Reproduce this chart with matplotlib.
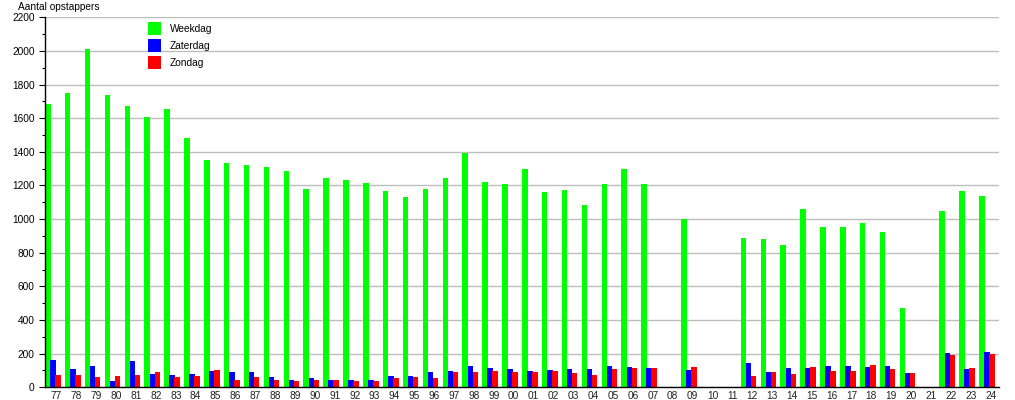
import numpy as np
import matplotlib
matplotlib.use("Agg")
import matplotlib.pyplot as plt
from matplotlib.patches import Patch
from matplotlib.ticker import MultipleLocator

plt.rcParams['font.family'] = ['Liberation Sans', 'DejaVu Sans']

years = ["77", "78", "79", "80", "81", "82", "83", "84", "85", "86", "87", "88",
         "89", "90", "91", "92", "93", "94", "95", "96", "97", "98", "99", "00",
         "01", "02", "03", "04", "05", "06", "07", "08", "09", "10", "11", "12",
         "13", "14", "15", "16", "17", "18", "19", "20", "21", "22", "23", "24"]

weekdag = [1685, 1752, 2012, 1738, 1673, 1607, 1655, 1483, 1352, 1334, 1322, 1310,
           1286, 1179, 1245, 1233, 1215, 1167, 1132, 1179, 1245, 1393, 1221, 1209,
           1298, 1162, 1173, 1084, 1209, 1298, 1209, 0, 1001, 0, 0, 888,
           882, 846, 1060, 953, 953, 977, 924, 472, 0, 1049, 1167, 1138]

zaterdag = [163, 109, 127, 38, 157, 79, 73, 79, 97, 91, 91, 61,
            44, 55, 44, 44, 44, 67, 67, 91, 97, 127, 115, 109,
            97, 103, 109, 109, 127, 121, 115, 0, 103, 0, 0, 145,
            91, 115, 115, 127, 127, 121, 127, 85, 0, 204, 109, 210]

zondag = [73, 73, 61, 67, 73, 91, 61, 67, 103, 44, 61, 44,
          38, 44, 44, 38, 38, 55, 61, 55, 91, 91, 97, 91,
          91, 97, 85, 73, 109, 115, 115, 0, 121, 0, 0, 67,
          91, 79, 121, 97, 97, 133, 109, 85, 0, 192, 115, 198]

series_names = ["Weekdag", "Zaterdag", "Zondag"]
colors = ["#00ff00", "#0000ff", "#ff0000"]

W, H = 1015, 400
fig = plt.figure(figsize=(W / 100, H / 100), dpi=100)
left, right = 45, 999
bottom, top = 387.3, 17.3
ax = fig.add_axes([left / W, 1 - bottom / H, (right - left) / W, (bottom - top) / H])

x = np.arange(len(years))
bw = 0.28
offsets = [-0.36, -0.10, 0.15]
for vals, off, c in zip([weekdag, zaterdag, zondag], offsets, colors):
    ax.bar(x + off, vals, width=bw, color=c, linewidth=0, zorder=2)

ax.set_xlim(-0.5, len(years) - 0.5)
ax.set_ylim(0, 2200)
ax.yaxis.set_major_locator(MultipleLocator(200))
ax.yaxis.set_minor_locator(MultipleLocator(100))
ax.grid(axis='y', which='major', color='#bdbdbd', linewidth=1.0, zorder=0)
ax.set_axisbelow(True)

ax.set_xticks(x + 0.08)
ax.set_xticklabels(years)
ax.tick_params(axis='x', length=0, pad=2.6, labelsize=7.3, colors='#222222')
ax.tick_params(axis='y', which='major', length=4, width=0.8, pad=3.5, labelsize=7.3)
ax.tick_params(axis='y', which='minor', length=2, width=0.8)

for s in ['top', 'right']:
    ax.spines[s].set_visible(False)
for s in ['left', 'bottom']:
    ax.spines[s].set_color('black')
    ax.spines[s].set_linewidth(1.0)

fig.text(18 / W, 1 - 10.5 / H, "Aantal opstappers", fontsize=7.3, ha='left', va='baseline')

handles = [Patch(facecolor=c, edgecolor='none') for c in colors]
leg = ax.legend(handles, series_names, loc='upper left',
                bbox_to_anchor=(148 / W, 1 - 22.0 / H), bbox_transform=fig.transFigure,
                frameon=False, fontsize=7.3, handlelength=1.25, handleheight=1.55,
                handletextpad=0.9, labelspacing=0.43, borderpad=0, borderaxespad=0)

fig.savefig("out.png", dpi=100)
